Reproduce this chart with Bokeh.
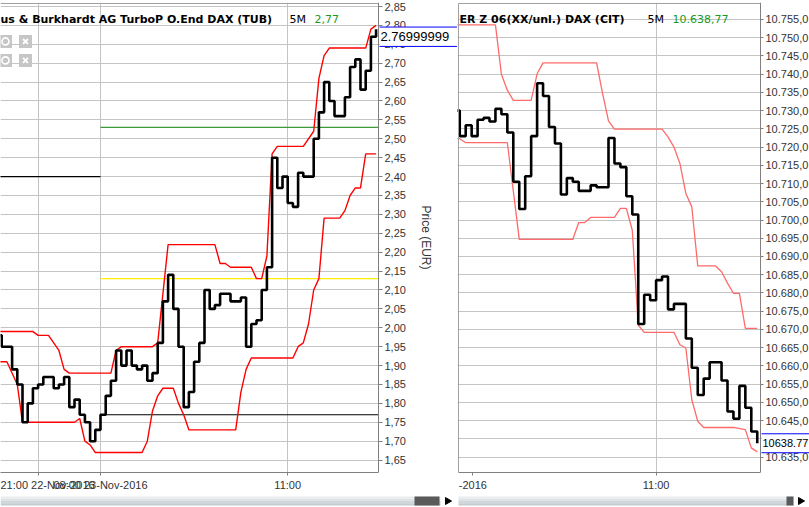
from bokeh.plotting import figure
from bokeh.models import Range1d, FixedTicker, CustomJSTickFormatter, Label
from bokeh.layouts import row, column
from bokeh.core.properties import value
from bokeh.embed import file_html
from bokeh.resources import INLINE

# ---------------- data ----------------
# bar index: 5-minute bars, 0 = 08:00 23-Nov-2016
left_bar = list(range(-20, 54))
left_close = [1.98, 1.95, 1.95, 1.89, 1.85, 1.75, 1.80, 1.84, 1.85, 1.87,
              1.87, 1.84, 1.85, 1.87, 1.79, 1.81, 1.77, 1.75, 1.70, 1.73,
              1.77, 1.82, 1.86, 1.94, 1.90, 1.94, 1.90, 1.89, 1.90, 1.86,
              1.88, 1.96, 2.07, 2.14, 2.05, 1.95, 1.79, 1.83, 1.91, 1.96,
              2.10, 2.05, 2.06, 2.09, 2.09, 2.07, 2.07, 2.08, 1.95, 2.01,
              2.02, 2.10, 2.16, 2.45, 2.37, 2.40, 2.33, 2.32, 2.41, 2.40,
              2.40, 2.50, 2.57, 2.65, 2.60, 2.56, 2.56, 2.61, 2.69, 2.71,
              2.63, 2.68, 2.77, 2.79]
left_upper_bar = [-20, -13, -12, -10, -8, -7, -6, 2, 3, 4, 10, 11, 13, 22, 23, 24,
                  25, 29, 30, 31, 32, 33, 34, 39, 41, 42, 43, 44, 51, 52, 53]
left_upper = [1.99, 1.99, 1.98, 1.98, 1.94, 1.89, 1.88, 1.88, 1.94, 1.95, 1.95,
              1.96, 2.22, 2.22, 2.17, 2.17, 2.16, 2.16, 2.13, 2.13, 2.19, 2.46,
              2.48, 2.48, 2.52, 2.66, 2.72, 2.74, 2.74, 2.79, 2.80]
left_lower_bar = [-20, -18, -16, -15, -5, -4, -3, -2, -1, 8, 9, 10, 11, 12, 14, 15,
                  16, 17, 26, 27, 28, 29, 37, 38, 39, 40, 41, 42, 43, 46, 47, 48,
                  49, 50, 51, 53]
left_lower = [1.91, 1.91, 1.85, 1.75, 1.75, 1.76, 1.70, 1.69, 1.67, 1.67, 1.70,
              1.78, 1.82, 1.84, 1.84, 1.80, 1.77, 1.73, 1.73, 1.83, 1.89, 1.92,
              1.92, 1.95, 1.96, 2.01, 2.10, 2.13, 2.29, 2.29, 2.31, 2.35, 2.37,
              2.37, 2.46, 2.46]
left_level_value = [2.40, 2.53, 2.13, 1.77]
left_level_from = [-20, 0, 0, 0]
left_level_to = [0, 56, 56, 56]
left_last = 2.77
left_last_text = "2.76999999"

right_bar = list(range(2, 54))
right_close = [10730, 10723, 10726, 10723, 10727.5, 10728, 10727, 10730.5, 10729,
               10724, 10710.5, 10703, 10712, 10723, 10737.5, 10734, 10725.5, 10721,
               10707, 10711.5, 10710.5, 10708, 10708, 10709.5, 10709, 10709,
               10722.5, 10715.5, 10714.5, 10706.5, 10701.5, 10671.5, 10679.5,
               10678, 10683.5, 10684.5, 10675.5, 10677, 10677, 10667.5, 10659.5,
               10652, 10656.5, 10661, 10661, 10656, 10647.5, 10645.5, 10654.5,
               10648.5, 10642, 10638.77]
right_upper_bar = [2, 9, 10, 11, 12, 15, 16, 17, 26, 27, 28, 29, 37, 38, 39, 40,
                   41, 42, 43, 46, 47, 48, 49, 50, 51, 53]
right_upper = [10753.5, 10753.5, 10740, 10735.6, 10732.8, 10732.8, 10740.1,
               10743.1, 10743.1, 10734.7, 10727.2, 10724.9, 10724.9, 10722.8,
               10720, 10715.5, 10707.3, 10703.6, 10687.4, 10687.4, 10685.8,
               10682.7, 10679.9, 10679.9, 10670.3, 10670.3]
right_lower_bar = [2, 3, 4, 11, 12, 13, 22, 23, 24, 25, 29, 30, 31, 32, 33, 34,
                   39, 40, 41, 42, 43, 44, 49, 51, 52, 53]
right_lower = [10722.3, 10722.3, 10721.2, 10721.2, 10708, 10694.7, 10694.7,
               10699.3, 10699.3, 10700.7, 10700.7, 10703.2, 10703.2, 10697.2,
               10671.2, 10669.2, 10669.2, 10665.8, 10664.9, 10650.7, 10644.8,
               10643.1, 10643.1, 10642.5, 10637.5, 10636.4]
right_last = 10638.77
right_last_text = "10638.77"

left_yticks = [round(1.65 + 0.05 * i, 2) for i in range(25)]
right_yticks = [10635 + 5 * i for i in range(25)]
left_xticks = [-12, 0, 36]
left_xlabels = ["21:00 22-Nov-2016", "08:00 23-Nov-2016", "11:00"]
right_xticks = [5.2, 36]      # 5.2 carries the visible tail of the clipped 08:00 label
right_xlabels = ["-2016", "11:00"]
right_grid_ticks = [36]

left_title = "us & Burkhardt AG TurboP O.End DAX (TUB)"
right_title = "ER Z 06(XX/unl.) DAX (CIT)"
interval_text = "5M"
left_quote = "2,77"
right_quote = "10.638,77"
y_axis_title = "Price (EUR)"

# ---------------- geometry helpers (reference pixel grid -> data) ----------------
def lx(px):
    return (px - 100.0) / 5.2

def ly(py):
    return 2.85 - (py - 6.0) * 0.05 / 18.94

def lpy(v):
    return 6.0 + (2.85 - v) * 18.94 / 0.05

def rx(px):
    return 36 + (px - 655.6) / 5.95

def ry(py):
    return 10755 - (py - 19.0) * 5 / 18.27

def rpy(v):
    return 19.0 + (10755 - v) * 18.27 / 5

GRID = "#c4c4c4"
AXIS = "#808080"
FRAME = "#a0a0a0"
TXT = "#333333"
LABEL_FONT = "Liberation Sans"
TITLE_FONT = "DejaVu Sans"
LW, RW, TOPH, SBH = 457, 352, 493, 14


def style_axes(p):
    for ax in (p.xaxis[0], p.yaxis[0]):
        ax.axis_line_color = AXIS
        ax.major_tick_line_color = AXIS
        ax.minor_tick_line_color = None
        ax.major_tick_in = 0
        ax.major_label_text_font = LABEL_FONT
        ax.major_label_text_font_size = "11px"
        ax.major_label_text_color = TXT
    p.xaxis[0].major_tick_out = 3
    p.xaxis[0].major_label_standoff = 3
    p.yaxis[0].major_tick_out = 4
    p.yaxis[0].major_label_standoff = 2
    p.grid.grid_line_color = GRID
    p.grid.grid_line_width = 1


def add_text(p, x, y, text, bold=False, color="black"):
    p.add_layout(Label(x=x, y=y, text=text, text_font=TITLE_FONT, text_font_size="11px",
                       text_font_style="bold" if bold else "normal",
                       text_color=color, text_baseline="middle", text_align="left"))


def price_box(p, x0, x1, xt, y, half, text, size):
    top, bot = y + half, y - half
    p.quad(left=[x0], right=[x1], top=[top], bottom=[bot], fill_color="white",
           line_color=None, level="overlay")
    p.segment(x0=[x0, x0], x1=[x1, x1], y0=[top, bot], y1=[top, bot],
              line_color="#0000ff", line_width=1, level="overlay")
    p.text(x=[xt], y=[y], text=[text], text_baseline="middle", text_align="left",
           text_font=value(LABEL_FONT), text_font_size=size, text_color="black",
           level="overlay")


# ---------------- left panel ----------------
pl = figure(width=LW, height=TOPH, x_range=Range1d(lx(0), lx(LW)),
            y_range=Range1d(ly(473), ly(2)), y_axis_location="right",
            output_backend="svg", toolbar_location=None,
            min_border_left=0, min_border_right=0, min_border_top=2, min_border_bottom=20,
            outline_line_color=None, background_fill_color="white", border_fill_color="white")
style_axes(pl)
ya = pl.yaxis[0]
ya.fixed_location = lx(378)
ya.ticker = FixedTicker(ticks=left_yticks)
pl.ygrid[0].ticker = FixedTicker(ticks=left_yticks)
ya.formatter = CustomJSTickFormatter(code="return tick.toFixed(2).replace('.', ',');")
ya.axis_label = y_axis_title
ya.axis_label_text_font = LABEL_FONT
ya.axis_label_text_font_size = "12px"
ya.axis_label_text_font_style = "normal"
ya.axis_label_text_color = TXT
ya.axis_label_standoff = 10
xa = pl.xaxis[0]
xa.ticker = FixedTicker(ticks=left_xticks)
pl.xgrid[0].ticker = FixedTicker(ticks=left_xticks)
xa.major_label_overrides = dict(zip(left_xticks, left_xlabels))
xa.bounds = (lx(-5), lx(378))

level_colors = ["black", "#3a9a3a", "#ffee00", "black"]
pl.segment(x0=left_level_from, y0=left_level_value, x1=left_level_to, y1=left_level_value,
           line_color=level_colors, line_width=1.2)
pl.line(left_upper_bar, left_upper, line_color="#ff0000", line_width=1.4)
pl.line(left_lower_bar, left_lower, line_color="#ff0000", line_width=1.4)
pl.step(left_bar, left_close, mode="after", line_color="black", line_width=2.6)

# panel chrome: blank strip right of the price axis, top frame line, window icons
pl.quad(left=[lx(378.6)], right=[lx(480)], bottom=[ly(490)], top=[ly(-10)],
        fill_color="white", line_color=None)
pl.segment(x0=[lx(0)], x1=[lx(378)], y0=[ly(3)], y1=[ly(3)], line_color=FRAME, line_width=1)
icon_x = [lx(5), lx(25), lx(5), lx(25)]
icon_y = [ly(41), ly(41), ly(60), ly(60)]
pl.scatter(icon_x, icon_y, marker="square", size=13, fill_color="#c6c6c6", line_color=None)
pl.scatter([lx(5), lx(5)], [ly(41), ly(60)], marker="circle", size=7, fill_color=None,
           line_color="white", line_width=1.6)
pl.scatter([lx(25), lx(25)], [ly(41), ly(60)], marker="x", size=7,
           line_color="white", line_width=2)

add_text(pl, lx(0), ly(19), left_title, bold=True)
add_text(pl, lx(289), ly(19), interval_text)
add_text(pl, lx(314), ly(19), left_quote, color="#1a9a1a")
price_box(pl, lx(379), lx(480), lx(380), left_last,
          (ly(lpy(left_last) - 9.7) - ly(lpy(left_last) + 9.7)) / 2, left_last_text, "13px")

# ---------------- right panel ----------------
pr = figure(width=RW, height=TOPH, x_range=Range1d(rx(LW), rx(LW + RW)),
            y_range=Range1d(ry(473), ry(2)), y_axis_location="right",
            output_backend="svg", toolbar_location=None,
            min_border_left=0, min_border_right=0, min_border_top=2, min_border_bottom=20,
            outline_line_color=None, background_fill_color="white", border_fill_color="white")
style_axes(pr)
yb = pr.yaxis[0]
yb.fixed_location = rx(760)
yb.major_tick_out = 3
yb.major_label_standoff = 2
yb.ticker = FixedTicker(ticks=right_yticks)
pr.ygrid[0].ticker = FixedTicker(ticks=right_yticks)
yb.formatter = CustomJSTickFormatter(code=r"""
const s = tick.toFixed(1).split('.');
return s[0].replace(/\B(?=(\d{3})+(?!\d))/g, '.') + ',' + s[1];
""")
xb = pr.xaxis[0]
xb.ticker = FixedTicker(ticks=right_xticks)
pr.xgrid[0].ticker = FixedTicker(ticks=right_grid_ticks)
xb.major_label_overrides = dict(zip(right_xticks, right_xlabels))
xb.bounds = (rx(458), rx(760))

pr.line(right_upper_bar, right_upper, line_color="#ff6a6a", line_width=1.3)
pr.line(right_lower_bar, right_lower, line_color="#ff6a6a", line_width=1.3)
pr.step(right_bar, right_close, mode="after", line_color="black", line_width=2.6)

pr.quad(left=[rx(760.6)], right=[rx(840)], bottom=[ry(490)], top=[ry(-10)],
        fill_color="white", line_color=None)
pr.segment(x0=[rx(458), rx(458)], x1=[rx(760), rx(458)], y0=[ry(3), ry(3)],
           y1=[ry(3), ry(473)], line_color=FRAME, line_width=1)

add_text(pr, rx(459), ry(19), right_title, bold=True)
add_text(pr, rx(647), ry(19), interval_text)
add_text(pr, rx(672), ry(19), right_quote, color="#1a9a1a")
price_box(pr, rx(761), rx(840), rx(762), right_last,
          (ry(rpy(right_last) - 9.5) - ry(rpy(right_last) + 9.5)) / 2, right_last_text, "11px")

# ---------------- scroll bars (window chrome) ----------------
def scroll_fig(w, bar0, bar_end, thumb0, thumb1, tri_x):
    f = figure(width=w, height=SBH, x_range=Range1d(0, w), y_range=Range1d(0, SBH),
               x_axis_location=None, y_axis_location=None, output_backend="svg",
               toolbar_location=None, min_border=0, outline_line_color=None,
               background_fill_color="white", border_fill_color="white")
    f.grid.visible = False
    bands = ["#e8ecee", "#dde2e5", "#d1d8db", "#c3cbcf"]
    tops = [11, 8.8, 6.5, 4.2]
    bots = [8.8, 6.5, 4.2, 2]
    f.quad(left=[bar0] * 4, right=[bar_end] * 4, top=tops, bottom=bots,
           fill_color=bands, line_color=None)
    f.quad(left=[thumb0], right=[thumb1], top=[11], bottom=[2],
           fill_color="#5a5a5a", line_color=None)
    f.scatter([tri_x], [6.5], marker="triangle", angle=-1.5708, size=7,
              fill_color="black", line_color="black")
    return f

sl = scroll_fig(LW, 0, 440, 414, 439, 447)
sr = scroll_fig(RW, 1, 336, 329, 336, 343)

layout = column(row(pl, pr), row(sl, sr))
open("out.html", "w").write(file_html(layout, INLINE))
